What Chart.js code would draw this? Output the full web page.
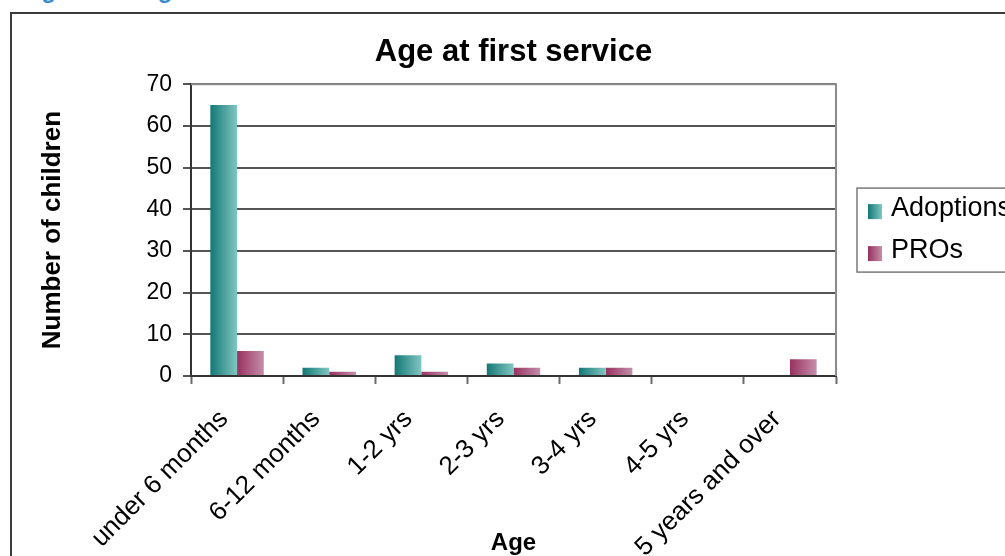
<!DOCTYPE html>
<html>
<head>
<meta charset="utf-8">
<script src="https://cdn.jsdelivr.net/npm/chart.js@4/dist/chart.umd.min.js"></script>
<style>
    body {
        margin: 0;
        width: 1005px;
        height: 556px;
        overflow: hidden;
        background: #ffffff;
        position: relative;
    }
    #caption {
        position: absolute;
        left: 20px;
        top: -22px;
        font: bold 24px "Liberation Sans", Arial, sans-serif;
        line-height: 24px;
        color: #3b8fd0;
        white-space: nowrap;
    }
    #frame {
        position: absolute;
        left: 10px;
        top: 12px;
        width: 2000px;
        height: 2000px;
        border-left: 2px solid #3a3a3a;
        border-top: 2px solid #3a3a3a;
    }
    #age-chart {
        position: absolute;
        left: 0;
        top: 0;
    }
</style>
</head>
<body>
<div id="caption">Figure 12: Age at first service</div>
<div id="frame"></div>
<canvas id="age-chart" width="1005" height="580"></canvas>

<script>
const categories = ['under 6 months', '6-12 months', '1-2 yrs', '2-3 yrs', '3-4 yrs', '4-5 yrs', '5 years and over'];
const adoptions = [65, 2, 5, 3, 2, 0, 0];
const pros = [6, 1, 1, 2, 2, 0, 4];
const yMax = 70;
const yStep = 10;

const FONT = '"Liberation Sans", Arial, sans-serif';
const CAT_PCT = 0.58;

// dark -> light pairs for the horizontal shading on each bar
const shades = [
    ['#137875', '#80c6c2'],
    ['#98315f', '#c48eaa'],
];

function barFill(dsIndex) {
    return function (context) {
        const chart = context.chart;
        const xScale = chart.scales.x;
        if (!chart.chartArea || !xScale) return shades[dsIndex][0];
        const catW = xScale.width / categories.length;
        const barW = catW * CAT_PCT / 2;
        const center = xScale.getPixelForValue(context.dataIndex);
        const left = center - barW + dsIndex * barW;
        const g = chart.ctx.createLinearGradient(left, 0, left + barW, 0);
        g.addColorStop(0, shades[dsIndex][0]);
        g.addColorStop(1, shades[dsIndex][1]);
        return g;
    };
}

// gray top/right edge of the plot plus the boxed legend at the right
const frameAndLegend = {
    id: 'frameAndLegend',
    afterDraw(chart) {
        const ctx = chart.ctx;
        const a = chart.chartArea;
        ctx.save();
        ctx.strokeStyle = '#8c8c8c';
        ctx.lineWidth = 2;
        ctx.beginPath();
        ctx.moveTo(a.left, a.top);
        ctx.lineTo(a.right, a.top);
        ctx.lineTo(a.right, a.bottom);
        ctx.stroke();

        const boxLeft = a.right + 21;
        const boxTop = (a.top + a.bottom) / 2 - 42;
        ctx.strokeStyle = '#7a7a7a';
        ctx.lineWidth = 1.5;
        ctx.strokeRect(boxLeft, boxTop, 200, 84);

        ctx.font = '27px ' + FONT;
        ctx.textBaseline = 'middle';
        ctx.fillStyle = '#000';
        chart.data.datasets.forEach((ds, i) => {
            const rowY = boxTop + 20 + i * 42;
            const sx = boxLeft + 11;
            const g = ctx.createLinearGradient(sx, 0, sx + 14, 0);
            g.addColorStop(0, shades[i][0]);
            g.addColorStop(1, shades[i][1]);
            ctx.fillStyle = g;
            ctx.fillRect(sx, rowY - 4, 14, 15);
            ctx.fillStyle = '#000';
            ctx.fillText(ds.label, boxLeft + 34, rowY);
        });
        ctx.restore();
    }
};

function drawChart() {
    const ctx = document.getElementById('age-chart').getContext('2d');
    new Chart(ctx, {
        type: 'bar',
        data: {
            labels: categories,
            datasets: [
                { label: 'Adoptions', data: adoptions, backgroundColor: barFill(0) },
                { label: 'PROs', data: pros, backgroundColor: barFill(1) },
            ],
        },
        options: {
            responsive: false,
            animation: false,
            categoryPercentage: CAT_PCT,
            barPercentage: 1,
            layout: { padding: { left: 0, right: 169, top: 0, bottom: 0 } },
            plugins: {
                legend: { display: false },
                tooltip: { enabled: false },
                title: {
                    display: true,
                    fullSize: false,
                    text: 'Age at first service',
                    color: '#000',
                    font: { family: FONT, size: 31, weight: 'bold' },
                    padding: { top: 34, bottom: 13 },
                },
            },
            scales: {
                x: {
                    afterFit: (scale) => { scale.height = 204; },
                    grid: {
                        offset: true,
                        drawOnChartArea: false,
                        tickLength: 8,
                        tickWidth: 2,
                        tickColor: '#6a6a6a',
                    },
                    border: { color: '#333', width: 2 },
                    ticks: {
                        autoSkip: false,
                        minRotation: 45,
                        maxRotation: 45,
                        padding: 20,
                        labelOffset: -13,
                        color: '#000',
                        font: { family: FONT, size: 26 },
                    },
                    title: {
                        display: true,
                        text: 'Age',
                        color: '#000',
                        font: { family: FONT, size: 24, weight: 'bold' },
                        padding: { top: 0, bottom: 22 },
                    },
                },
                y: {
                    min: 0,
                    max: yMax,
                    afterFit: (scale) => { scale.width = 191; },
                    grid: {
                        color: '#555',
                        lineWidth: 2,
                        tickLength: 8,
                    },
                    border: { color: '#333', width: 2 },
                    ticks: {
                        stepSize: yStep,
                        padding: 11,
                        color: '#000',
                        font: { family: FONT, size: 23 },
                    },
                    title: {
                        display: true,
                        text: 'Number of children',
                        color: '#000',
                        font: { family: FONT, size: 26, weight: 'bold' },
                        padding: { top: 37, bottom: 0 },
                    },
                },
            },
        },
        plugins: [frameAndLegend],
    });
}

window.onload = () => {
    drawChart();
};
</script>
</body>
</html>
